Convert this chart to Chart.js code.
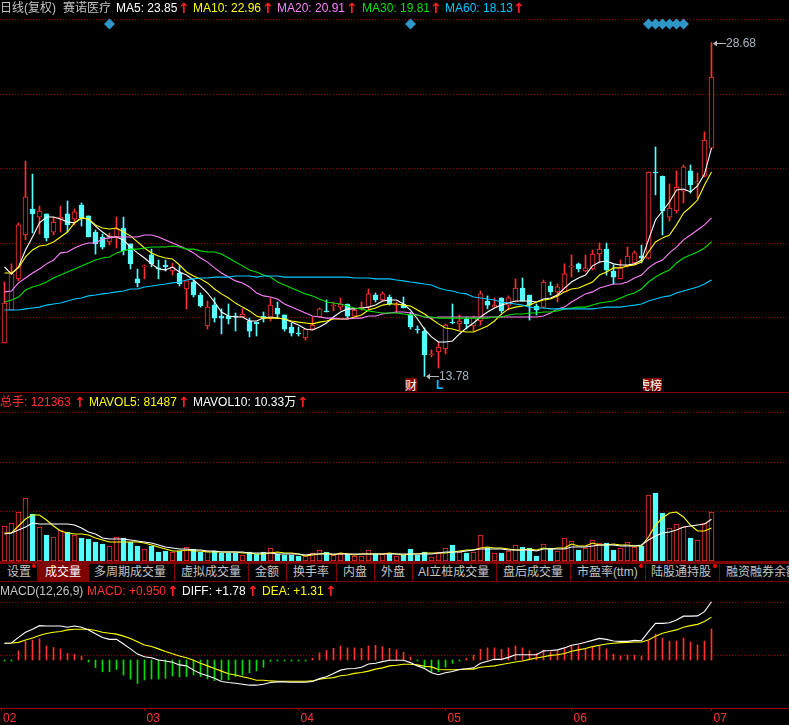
<!DOCTYPE html>
<html lang="zh">
<head>
    <meta charset="UTF-8">
    <title>赛诺医疗 日线</title>
    <style>
        html, body {
            margin: 0;
            padding: 0;
            background: #000;
            width: 789px;
            height: 725px;
            overflow: hidden;
        }

        canvas {
            position: absolute;
            left: 0;
        }

        #price-chart { top: 0; }
        #volume-chart { top: 392px; }
        #macd-chart { top: 582px; }

        .t {
            position: absolute;
            font: 12px "Liberation Sans", "Noto Sans CJK SC", sans-serif;
            line-height: 14px;
            white-space: nowrap;
        }

        .arrow {
            color: #ff2020;
            font: bold 14px "DejaVu Sans", sans-serif;
            line-height: 14px;
        }

        .hline, .vline {
            position: absolute;
            background: #800000;
        }

        .tab { color: #c4c4c4; top: 565px; }
        .dot {
            position: absolute;
            width: 4px;
            height: 4px;
            border-radius: 50%;
            background: #ff0000;
            top: 564px;
        }

        .tag {
            position: absolute;
            top: 378px;
            height: 13px;
            background: #800000;
            color: #fff;
            font: 12px/13px "Noto Sans CJK SC", sans-serif;
            overflow: hidden;
            direction: rtl;
            white-space: nowrap;
        }
    </style>
</head>
<body>
    <canvas id="price-chart" width="789" height="392"></canvas>
    <canvas id="volume-chart" width="789" height="169"></canvas>
    <canvas id="macd-chart" width="789" height="143"></canvas>

    <!-- price header -->
    <span class="t" style="left:0;top:1px;color:#c4c4c4">日线(复权)</span>
    <span class="t" style="left:63px;top:1px;color:#c4c4c4">赛诺医疗</span>
    <span class="t" style="left:116px;top:1px;color:#fff">MA5: 23.85</span>
    <span class="t arrow" style="left:178px;top:1px">↑</span>
    <span class="t" style="left:193px;top:1px;color:#ffff00">MA10: 22.96</span>
    <span class="t arrow" style="left:262px;top:1px">↑</span>
    <span class="t" style="left:277px;top:1px;color:#ff80ff">MA20: 20.91</span>
    <span class="t arrow" style="left:346px;top:1px">↑</span>
    <span class="t" style="left:362px;top:1px;color:#00e000">MA30: 19.81</span>
    <span class="t arrow" style="left:430px;top:1px">↑</span>
    <span class="t" style="left:445px;top:1px;color:#00c8ff">MA60: 18.13</span>
    <span class="t arrow" style="left:513px;top:1px">↑</span>

    <!-- event tags on the price pane -->
    <span class="tag" style="left:405px;width:12px">财</span>
    <span class="tag" style="left:643px;width:19px">虎榜</span>
    <span class="t" style="left:436px;top:378px;color:#00c0ff;font-weight:bold">L</span>

    <!-- volume header -->
    <div class="hline" style="left:0;top:392px;width:789px;height:1px"></div>
    <span class="t" style="left:0;top:395px;color:#ff3232">总手: 121363</span>
    <span class="t arrow" style="left:74px;top:395px">↑</span>
    <span class="t" style="left:89px;top:395px;color:#ffff00">MAVOL5: 81487</span>
    <span class="t arrow" style="left:178px;top:395px">↑</span>
    <span class="t" style="left:193px;top:395px;color:#fff">MAVOL10: 10.33万</span>
    <span class="t arrow" style="left:297px;top:395px">↑</span>

    <!-- tab bar -->
    <div class="hline" style="left:0;top:561px;width:789px;height:3px"></div>
    <div class="hline" style="left:0;top:581px;width:789px;height:1px"></div>
    <div class="hline" style="left:38px;top:564px;width:51px;height:17px"></div>
    <div class="vline" style="left:37px;top:564px;width:1px;height:17px"></div>
    <div class="vline" style="left:174px;top:564px;width:1px;height:17px"></div>
    <div class="vline" style="left:248px;top:564px;width:1px;height:17px"></div>
    <div class="vline" style="left:286px;top:564px;width:1px;height:17px"></div>
    <div class="vline" style="left:336px;top:564px;width:1px;height:17px"></div>
    <div class="vline" style="left:374px;top:564px;width:1px;height:17px"></div>
    <div class="vline" style="left:412px;top:564px;width:1px;height:17px"></div>
    <div class="vline" style="left:496px;top:564px;width:1px;height:17px"></div>
    <div class="vline" style="left:570px;top:564px;width:1px;height:17px"></div>
    <div class="vline" style="left:645px;top:564px;width:1px;height:17px"></div>
    <div class="vline" style="left:719px;top:564px;width:1px;height:17px"></div>
    <span class="t tab" style="left:7px">设置</span>
    <span class="t tab" style="left:45px;color:#fff">成交量</span>
    <span class="t tab" style="left:94px">多周期成交量</span>
    <span class="t tab" style="left:181px">虚拟成交量</span>
    <span class="t tab" style="left:255px">金额</span>
    <span class="t tab" style="left:293px">换手率</span>
    <span class="t tab" style="left:343px">内盘</span>
    <span class="t tab" style="left:381px">外盘</span>
    <span class="t tab" style="left:418px">AI立桩成交量</span>
    <span class="t tab" style="left:503px">盘后成交量</span>
    <span class="t tab" style="left:577px">市盈率(ttm)</span>
    <span class="t tab" style="left:651px">陆股通持股</span>
    <span class="t tab" style="left:726px">融资融券余额</span>
    <div class="dot" style="left:32px"></div>
    <div class="dot" style="left:639px"></div>
    <div class="dot" style="left:713px"></div>

    <!-- macd header -->
    <span class="t" style="left:0;top:584px;color:#c4c4c4">MACD(12,26,9)</span>
    <span class="t" style="left:87px;top:584px;color:#ff3232">MACD: +0.950</span>
    <span class="t arrow" style="left:167px;top:584px">↑</span>
    <span class="t" style="left:182px;top:584px;color:#fff">DIFF: +1.78</span>
    <span class="t arrow" style="left:247px;top:584px">↑</span>
    <span class="t" style="left:262px;top:584px;color:#ffff00">DEA: +1.31</span>
    <span class="t arrow" style="left:325px;top:584px">↑</span>

    <script src="https://cdn.jsdelivr.net/npm/chart.js"></script>
    <script>
        // daily candles, one entry per trading day
        const opens = [
            15.27,16.74,18.13,20.09,21.25,20.89,21.03,20.22,20.80,21.03,
            20.80,21.43,20.94,20.22,20.00,19.78,20.00,20.40,19.69,18.13,
            18.66,19.20,18.62,18.75,18.48,18.39,17.68,17.99,17.41,16.03,
            16.96,16.47,16.47,16.47,16.43,16.25,16.20,16.47,16.38,16.83,
            16.52,15.98,15.71,15.49,15.89,16.43,16.70,16.92,16.87,17.01,
            16.47,16.79,16.87,17.41,17.19,17.32,16.96,17.01,16.52,15.89,
            15.80,14.73,14.87,15.00,16.20,16.12,16.34,16.03,16.25,17.14,
            16.87,17.28,16.96,17.10,17.72,17.41,16.92,16.87,17.81,17.55,
            17.55,18.66,18.80,18.48,18.57,19.24,19.46,18.48,18.13,18.71,
            18.84,19.15,19.06,22.90,22.72,20.89,21.16,22.05,22.95,22.41,
            22.72,23.97
        ];
        const highs = [
            17.99,18.80,20.63,23.39,22.81,21.38,21.03,20.89,21.38,21.61,
            21.25,21.52,20.94,20.31,20.13,20.18,20.89,20.89,19.69,18.57,
            18.75,19.46,18.97,18.97,18.84,18.71,18.04,18.08,17.50,17.14,
            17.28,16.79,17.01,16.61,16.79,16.38,16.20,16.65,17.28,17.10,
            16.52,16.16,15.98,15.89,16.43,16.83,17.19,17.10,17.28,17.01,
            16.79,17.10,17.68,17.50,17.55,17.41,17.10,17.32,16.65,16.03,
            15.94,14.96,15.31,16.12,17.01,16.52,16.43,16.47,17.59,17.37,
            17.28,17.28,17.37,18.13,18.17,17.41,17.01,18.08,17.99,17.90,
            18.80,19.20,18.84,19.20,19.42,19.73,19.73,18.75,18.97,19.55,
            19.38,19.64,22.90,24.02,22.72,22.37,22.95,23.21,23.21,22.86,
            24.69,28.68
        ];
        const lows = [
            15.27,16.74,18.04,19.87,20.18,20.13,19.82,20.09,20.22,20.22,
            20.54,20.49,20.00,19.24,19.46,19.64,19.51,19.20,18.57,17.77,
            18.13,18.66,18.13,18.48,18.30,17.81,16.79,17.32,16.87,15.89,
            16.20,15.67,16.12,15.80,16.43,15.54,15.58,16.20,16.25,16.38,
            15.80,15.58,15.58,15.40,15.85,16.43,16.65,16.70,16.74,16.38,
            16.47,16.74,16.74,17.10,17.14,16.96,16.61,16.83,15.89,15.71,
            13.78,14.64,14.15,14.78,16.12,15.85,15.89,15.80,16.07,16.79,
            16.87,16.61,16.74,17.10,17.14,16.29,16.52,16.83,17.41,17.10,
            17.55,18.21,18.44,18.44,18.53,18.84,18.30,17.90,18.13,18.66,
            18.75,18.84,19.02,21.88,20.09,20.71,21.07,21.52,21.96,21.70,
            22.68,23.97
        ];
        const closes = [
            17.05,18.35,20.54,21.79,21.03,21.16,19.96,20.67,20.89,20.54,
            21.12,20.85,20.00,19.69,19.55,20.05,20.36,19.38,18.80,17.95,
            18.71,18.80,18.57,18.66,18.66,17.90,18.04,17.41,16.92,16.87,
            16.38,16.38,16.34,16.43,16.56,15.80,16.12,16.43,16.96,16.56,
            15.89,15.71,15.67,15.89,16.07,16.79,16.65,16.96,17.01,16.47,
            16.74,16.87,17.46,17.19,17.46,17.01,17.01,16.83,15.98,15.85,
            14.73,14.78,15.09,16.07,16.16,16.25,16.12,16.43,17.46,16.96,
            16.96,16.70,17.28,17.72,17.14,16.96,16.74,17.99,17.55,17.77,
            18.35,18.71,18.57,18.62,19.24,19.46,18.53,18.21,18.62,19.15,
            19.29,19.06,22.90,22.86,21.16,21.29,22.23,23.13,22.32,22.46,
            24.33,27.14
        ];

        const ma5 = [
            18.66,18.35,18.66,19.42,20.00,20.63,20.89,20.89,20.80,20.67,
            20.63,20.85,20.80,20.49,20.22,20.00,20.00,19.87,19.55,19.29,
            19.06,18.80,18.57,18.53,18.66,18.44,18.30,18.08,17.81,17.50,
            17.10,16.65,16.47,16.43,16.43,16.25,16.25,16.38,16.43,16.38,
            16.34,16.20,16.07,15.89,15.85,15.98,16.16,16.43,16.65,16.79,
            16.79,16.83,16.87,16.96,17.14,17.19,17.19,17.01,16.74,16.34,
            15.89,15.54,15.31,15.31,15.36,15.67,15.94,16.16,16.43,16.65,
            16.83,16.96,17.05,17.14,17.14,17.14,17.10,17.23,17.28,17.41,
            17.72,17.99,18.17,18.30,18.71,18.88,18.93,18.80,18.75,18.75,
            18.80,18.97,19.87,20.76,21.16,21.56,22.10,22.14,22.01,22.28,
            22.81,23.97
        ];
        const ma10 = [
            18.39,18.39,18.62,19.11,19.42,19.60,19.64,19.78,20.00,20.22,
            20.63,20.85,20.80,20.54,20.40,20.36,20.40,20.22,20.05,19.78,
            19.51,19.29,19.15,19.06,19.02,18.75,18.44,18.26,18.13,17.95,
            17.68,17.46,17.28,17.05,16.87,16.70,16.47,16.38,16.38,16.38,
            16.34,16.25,16.20,16.16,16.12,16.20,16.25,16.34,16.34,16.34,
            16.43,16.52,16.74,16.83,16.96,17.01,17.01,16.96,16.92,16.74,
            16.56,16.34,16.12,15.94,15.89,15.80,15.76,15.76,15.89,16.03,
            16.25,16.56,16.79,16.87,16.92,16.96,17.10,17.19,17.23,17.37,
            17.55,17.68,17.72,17.86,17.99,18.30,18.44,18.62,18.62,18.71,
            18.75,18.88,19.33,19.78,19.96,20.09,20.54,21.07,21.34,21.65,
            22.32,22.90
        ];
        const ma20 = [
            17.55,17.59,17.95,18.17,18.39,18.57,18.80,18.97,19.29,19.33,
            19.51,19.64,19.73,19.73,19.91,19.96,20.00,20.00,20.00,20.00,
            20.09,20.09,20.00,19.87,19.73,19.60,19.46,19.29,19.06,18.88,
            18.62,18.39,18.21,18.04,17.95,17.77,17.50,17.37,17.32,17.23,
            17.01,16.87,16.74,16.61,16.47,16.43,16.38,16.38,16.34,16.34,
            16.38,16.38,16.47,16.47,16.56,16.61,16.65,16.65,16.61,16.52,
            16.43,16.38,16.43,16.43,16.43,16.43,16.43,16.43,16.43,16.43,
            16.43,16.43,16.43,16.43,16.43,16.43,16.43,16.47,16.61,16.79,
            16.87,17.10,17.28,17.46,17.55,17.72,17.81,17.90,17.90,17.99,
            18.17,18.30,18.62,18.84,18.97,19.29,19.55,19.87,20.09,20.31,
            20.54,20.85
        ];
        const ma30 = [
            17.10,17.19,17.32,17.63,17.77,17.86,17.99,18.17,18.30,18.44,
            18.57,18.71,18.84,18.97,19.06,19.11,19.29,19.38,19.46,19.46,
            19.51,19.55,19.55,19.55,19.60,19.55,19.46,19.46,19.38,19.33,
            19.33,19.24,19.06,18.88,18.71,18.53,18.44,18.30,18.21,17.99,
            17.86,17.72,17.59,17.46,17.37,17.23,17.10,17.05,17.01,16.92,
            16.83,16.79,16.70,16.65,16.61,16.61,16.61,16.56,16.52,16.52,
            16.43,16.43,16.38,16.38,16.38,16.38,16.38,16.38,16.38,16.38,
            16.43,16.43,16.52,16.56,16.56,16.61,16.61,16.65,16.65,16.70,
            16.79,16.83,16.87,16.87,16.96,17.05,17.10,17.14,17.28,17.41,
            17.50,17.68,17.99,18.21,18.39,18.53,18.84,19.06,19.20,19.33,
            19.51,19.78
        ];
        const ma60 = [
            16.74,16.74,16.74,16.79,16.83,16.87,16.96,17.01,17.05,17.14,
            17.23,17.28,17.37,17.41,17.46,17.50,17.55,17.59,17.68,17.68,
            17.77,17.81,17.86,17.90,17.95,17.99,18.08,18.13,18.17,18.17,
            18.21,18.21,18.21,18.26,18.26,18.26,18.21,18.26,18.26,18.26,
            18.21,18.21,18.21,18.21,18.21,18.21,18.21,18.21,18.21,18.21,
            18.17,18.17,18.17,18.13,18.13,18.13,18.08,18.04,17.99,17.95,
            17.90,17.86,17.72,17.63,17.59,17.50,17.46,17.32,17.28,17.23,
            17.19,17.10,17.05,17.01,16.96,16.87,16.83,16.83,16.79,16.79,
            16.79,16.79,16.79,16.79,16.79,16.83,16.87,16.87,16.87,16.92,
            16.96,17.01,17.14,17.23,17.32,17.37,17.50,17.59,17.68,17.77,
            17.90,18.08
        ];

        // volume in 手
        const volumes = [
            86700,94100,121400,156100,116400,84200,64400,59400,76800,71800,
            64400,57000,54500,47100,42100,37200,59400,57000,47100,37200,
            29700,37200,22300,24800,22300,24800,34700,29700,22300,24800,
            24800,19800,19800,19800,14900,22300,17300,22300,32200,17300,
            14900,14900,12400,12400,19800,27200,22300,14900,17300,17300,
            12400,12400,27200,17300,17300,17300,12400,14900,29700,14900,
            22300,9900,22300,32200,39600,22300,19800,22300,64400,32200,
            19800,19800,24800,39600,34700,32200,12400,42100,32200,24800,
            57000,49500,27200,32200,52000,44600,44600,27200,32200,47100,
            34700,37200,163500,168400,118900,81700,91600,84200,57000,52000,
            94100,121363
        ];
        const mavol5 = [
            69400,69400,86700,104000,113900,113900,101600,86700,74300,69400,
            66900,66900,64400,57000,52000,47100,47100,47100,47100,47100,
            44600,39600,34700,29700,24800,24800,27200,24800,24800,22300,
            22300,22300,22300,22300,19800,19800,17300,17300,19800,22300,
            19800,19800,17300,12400,14900,17300,19800,14900,19800,17300,
            14900,17300,17300,17300,17300,19800,17300,14900,17300,17300,
            19800,19800,19800,19800,22300,24800,27200,27200,32200,34700,
            32200,32200,29700,27200,27200,29700,27200,32200,29700,32200,
            32200,42100,37200,37200,44600,39600,39600,42100,39600,39600,
            37200,37200,59400,89200,106500,118900,121400,109000,89200,74300,
            74300,81487
        ];
        const mavol10 = [
            66900,69400,76800,84200,94100,91600,91600,91600,91600,91600,
            89200,81700,71800,66900,57000,54500,54500,54500,52000,49500,
            47100,44600,39600,34700,32200,29700,29700,27200,27200,24800,
            24800,22300,22300,22300,22300,19800,19800,19800,19800,17300,
            17300,17300,17300,14900,17300,17300,17300,17300,17300,17300,
            17300,17300,17300,17300,17300,17300,17300,17300,17300,17300,
            17300,17300,19800,22300,22300,22300,24800,27200,29700,29700,
            29700,29700,27200,27200,27200,27200,24800,29700,29700,29700,
            29700,34700,34700,34700,37200,39600,39600,39600,37200,37200,
            37200,39600,52000,61900,69400,71800,76800,84200,86700,89200,
            91600,103300
        ];

        const macd = [
            -0.03,-0.03,0.28,0.58,0.61,0.65,0.43,0.38,0.34,0.20,
            0.18,0.12,-0.06,-0.23,-0.36,-0.36,-0.29,-0.46,-0.58,-0.72,
            -0.61,-0.58,-0.58,-0.56,-0.49,-0.52,-0.51,-0.46,-0.51,-0.58,
            -0.63,-0.61,-0.61,-0.51,-0.46,-0.39,-0.33,-0.22,-0.04,-0.03,
            -0.03,-0.03,-0.03,-0.03,0.05,0.22,0.29,0.36,0.43,0.37,
            0.37,0.36,0.43,0.45,0.41,0.36,0.31,0.24,0.09,-0.03,
            -0.24,-0.36,-0.36,-0.22,-0.10,-0.03,0.05,0.15,0.33,0.37,
            0.37,0.33,0.37,0.43,0.37,0.28,0.20,0.30,0.25,0.29,
            0.34,0.44,0.44,0.35,0.41,0.44,0.34,0.18,0.13,0.15,
            0.15,0.12,0.58,0.79,0.67,0.58,0.58,0.67,0.55,0.46,
            0.58,0.95
        ];
        const diff = [
            0.51,0.52,0.69,0.85,0.94,1.05,1.04,1.04,1.04,1.00,
            1.04,1.00,0.92,0.80,0.69,0.63,0.63,0.49,0.34,0.18,
            0.10,0.07,0,-0.03,-0.07,-0.15,-0.18,-0.31,-0.41,-0.48,
            -0.56,-0.66,-0.69,-0.71,-0.74,-0.77,-0.77,-0.74,-0.69,-0.67,
            -0.67,-0.68,-0.68,-0.68,-0.66,-0.57,-0.51,-0.41,-0.31,-0.27,
            -0.26,-0.22,-0.12,-0.10,-0.05,-0.01,-0.01,-0.01,-0.08,-0.18,
            -0.26,-0.39,-0.45,-0.39,-0.35,-0.29,-0.27,-0.24,-0.10,-0.04,
            0.02,0.02,0.08,0.16,0.16,0.16,0.16,0.28,0.29,0.31,
            0.37,0.45,0.49,0.54,0.60,0.66,0.63,0.58,0.57,0.57,
            0.60,0.59,0.87,1.12,1.12,1.14,1.22,1.34,1.34,1.35,
            1.48,1.78
        ];
        const dea = [
            0.51,0.52,0.54,0.61,0.67,0.75,0.81,0.85,0.87,0.92,
            0.94,0.94,0.94,0.90,0.85,0.82,0.79,0.73,0.66,0.56,
            0.46,0.41,0.34,0.26,0.19,0.12,0.07,-0.01,-0.10,-0.18,
            -0.26,-0.34,-0.42,-0.46,-0.51,-0.56,-0.62,-0.62,-0.64,-0.65,
            -0.65,-0.65,-0.65,-0.65,-0.64,-0.59,-0.56,-0.54,-0.48,-0.46,
            -0.41,-0.38,-0.34,-0.28,-0.24,-0.18,-0.16,-0.13,-0.13,-0.15,
            -0.19,-0.21,-0.29,-0.30,-0.30,-0.29,-0.28,-0.28,-0.22,-0.20,
            -0.18,-0.14,-0.10,-0.06,-0.03,0.02,0.06,0.10,0.14,0.16,
            0.20,0.27,0.31,0.35,0.41,0.45,0.49,0.51,0.53,0.54,
            0.55,0.55,0.61,0.73,0.82,0.87,0.92,1.00,1.05,1.09,
            1.18,1.31
        ];

        // dotted grid levels and the signal diamonds along the top
        const priceGrid = [29.69, 26.36, 23.06, 19.73, 16.41];
        const volumeGrid = [366600, 245200, 123800];
        const macdGrid = [1.77, 0.15];
        const signalDays = [15, 58, 92, 93, 94, 95, 96, 97];
        const signalLevel = 29.51;

        // month ticks under the macd pane (index of first trading day)
        const monthDays = [-0.5, 20, 42, 63, 81, 101];
        const monthLabels = ['02', '03', '04', '05', '06', '07'];

        const RED = '#ff3232';
        const CYAN = '#54ffff';
        const GRID = '#8c0000';
        const days = closes.map((c, i) => i);
        const isUp = closes.map((c, i) => c >= opens[i]);

        // one day is 7px wide, first candle centred at 4.5px
        const xMin = -4.5 / 7;
        const xMax = (789 - 4.5) / 7;

        function xy(values) {
            return values.map((v, i) => ({ x: i, y: v }));
        }

        function maLine(values, color) {
            return {
                type: 'line',
                data: xy(values),
                borderColor: color,
                borderWidth: 1.1,
                pointRadius: 0,
                tension: 0,
                order: 0
            };
        }

        function xScale() {
            return {
                type: 'linear',
                min: xMin,
                max: xMax,
                offset: false,
                display: false,
                grid: { offset: false }
            };
        }

        function yScale(min, max, levels) {
            return {
                min: min,
                max: max,
                position: 'left',
                ticks: { display: false },
                border: { display: false, dash: [1, 2] },
                grid: { color: GRID, lineWidth: 1, drawTicks: false },
                afterBuildTicks(scale) {
                    scale.ticks = levels.map(v => ({ value: v }));
                },
                afterFit(scale) {
                    scale.width = 0;
                }
            };
        }

        const baseOptions = {
            responsive: false,
            animation: false,
            devicePixelRatio: 1,
            layout: { padding: 0, autoPadding: false },
            plugins: { legend: { display: false }, tooltip: { enabled: false } }
        };

        function barOptions(thickness) {
            return {
                grouped: false,
                barPercentage: 1,
                categoryPercentage: 1,
                maxBarThickness: thickness,
                borderSkipped: false
            };
        }

        // the 28.68 / 13.78 arrows next to the extreme candles
        const extremes = [
            { day: highs.indexOf(Math.max(...highs)), value: Math.max(...highs) },
            { day: lows.indexOf(Math.min(...lows)), value: Math.min(...lows) }
        ];

        const extremeLabels = {
            id: 'extremeLabels',
            afterDatasetsDraw(chart) {
                const ctx = chart.ctx;
                ctx.save();
                ctx.font = '12px "Liberation Sans", sans-serif';
                ctx.textBaseline = 'middle';
                extremes.forEach(e => {
                    const x = Math.round(chart.scales.x.getPixelForValue(e.day));
                    const y = Math.round(chart.scales.y.getPixelForValue(e.value));
                    ctx.fillStyle = '#b8b8b8';
                    ctx.beginPath();
                    ctx.moveTo(x + 1, y + 0.5);
                    ctx.lineTo(x + 5, y - 2.5);
                    ctx.lineTo(x + 5, y + 3.5);
                    ctx.closePath();
                    ctx.fill();
                    ctx.fillRect(x + 5, y, 9, 1);
                    ctx.fillStyle = '#a8b4c0';
                    ctx.fillText(e.value.toFixed(2), x + 14, y + 1);
                });
                ctx.restore();
            }
        };

        new Chart(document.getElementById('price-chart'), {
            type: 'bar',
            plugins: [extremeLabels],
            data: {
                datasets: [
                    maLine(ma60, '#00c8ff'),
                    maLine(ma30, '#00e000'),
                    maLine(ma20, '#ff80ff'),
                    maLine(ma10, '#ffff00'),
                    maLine(ma5, '#ffffff'),
                    {
                        type: 'line',
                        data: signalDays.map(d => ({ x: d, y: signalLevel })),
                        showLine: false,
                        pointStyle: 'rectRot',
                        pointRadius: 5.5,
                        pointBorderWidth: 0,
                        pointBackgroundColor: '#2f96c8',
                        order: 0
                    },
                    {
                        // candle bodies
                        data: days.map(i => ({ x: i, y: [opens[i], closes[i]] })),
                        backgroundColor: isUp.map(u => u ? '#000000' : CYAN),
                        borderColor: isUp.map(u => u ? RED : CYAN),
                        borderWidth: 1,
                        ...barOptions(5),
                        order: 1
                    },
                    {
                        // high-low wicks
                        data: days.map(i => ({ x: i, y: [lows[i], highs[i]] })),
                        backgroundColor: isUp.map(u => u ? RED : CYAN),
                        borderWidth: 0,
                        ...barOptions(1),
                        order: 2
                    }
                ]
            },
            options: {
                ...baseOptions,
                scales: {
                    x: xScale(),
                    y: yScale(13.08, 30.58, priceGrid)
                }
            }
        });

        new Chart(document.getElementById('volume-chart'), {
            type: 'bar',
            data: {
                datasets: [
                    maLine(mavol10, '#ffffff'),
                    maLine(mavol5, '#ffff00'),
                    {
                        data: xy(volumes),
                        backgroundColor: isUp.map(u => u ? '#000000' : CYAN),
                        borderColor: isUp.map(u => u ? RED : CYAN),
                        borderWidth: 1,
                        ...barOptions(5),
                        order: 1
                    }
                ]
            },
            options: {
                ...baseOptions,
                scales: {
                    x: xScale(),
                    y: yScale(0, 418600, volumeGrid)
                }
            }
        });

        new Chart(document.getElementById('macd-chart'), {
            type: 'bar',
            data: {
                datasets: [
                    maLine(diff, '#ffffff'),
                    maLine(dea, '#ffff00'),
                    {
                        data: xy(macd),
                        backgroundColor: macd.map(v => v >= 0 ? RED : '#00e000'),
                        borderWidth: 0,
                        ...barOptions(1),
                        order: 1
                    }
                ]
            },
            options: {
                ...baseOptions,
                scales: {
                    x: {
                        type: 'linear',
                        min: xMin,
                        max: xMax,
                        offset: false,
                        border: { display: true, color: '#a00000' },
                        grid: {
                            offset: false,
                            drawOnChartArea: false,
                            drawTicks: true,
                            tickLength: 3,
                            tickColor: '#a00000'
                        },
                        ticks: {
                            autoSkip: false,
                            maxRotation: 0,
                            minRotation: 0,
                            align: 'start',
                            labelOffset: 2,
                            padding: 0,
                            color: RED,
                            font: { family: '"Liberation Sans", sans-serif', size: 12 },
                            callback: value => monthLabels[monthDays.indexOf(value)]
                        },
                        afterBuildTicks(scale) {
                            scale.ticks = monthDays.map(v => ({ value: v }));
                        },
                        afterFit(scale) {
                            scale.height = 17;
                            scale.paddingLeft = 0;
                            scale.paddingRight = 0;
                        }
                    },
                    y: yScale(-1.468, 2.385, macdGrid)
                }
            }
        });
    </script>
</body>
</html>
